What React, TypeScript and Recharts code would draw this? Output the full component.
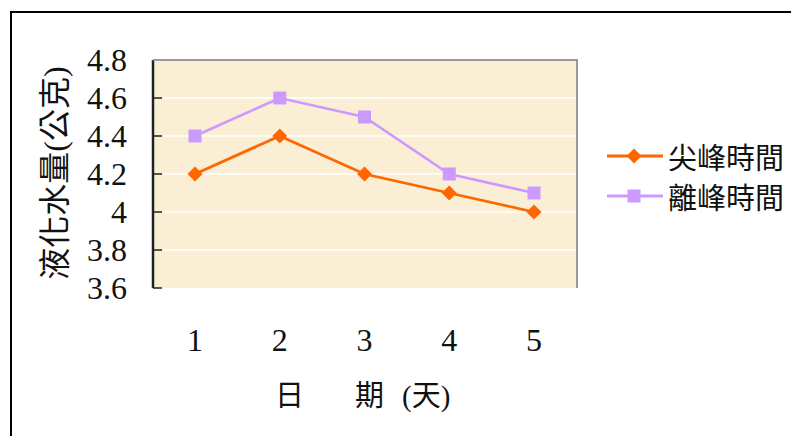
import { LineChart, Line, XAxis, YAxis, CartesianGrid, Legend } from "recharts";

const days = ["1", "2", "3", "4", "5"];
const peak = [4.2, 4.4, 4.2, 4.1, 4.0];
const offPeak = [4.4, 4.6, 4.5, 4.2, 4.1];
const yTicks = [3.6, 3.8, 4.0, 4.2, 4.4, 4.6, 4.8];
const dayBoundaries = [1, 2, 3, 4];
const seriesNames = ["尖峰時間", "離峰時間"];
const seriesColors = ["#FF6600", "#CC99FF"];

const data = days.map((d, i) => ({ day: d, peak: peak[i], offPeak: offPeak[i] }));
// white grid lines only inside the plot, not on its edges
const gridValues = yTicks.slice(1, -1);
const yMin = yTicks[0];
const yMax = yTicks[yTicks.length - 1];

const FONT = "'Liberation Serif', 'Noto Sans CJK TC', serif";
const INK = "#111";

const Diamond = (props: any) => {
  const { cx, cy, index } = props;
  if (cx == null || cy == null) return <g key={`d-${index}`} />;
  const r = 7.5;
  return (
    <path
      key={`d-${index}`}
      d={`M${cx},${cy - r}L${cx + r},${cy}L${cx},${cy + r}L${cx - r},${cy}Z`}
      fill={seriesColors[0]}
    />
  );
};

const Square = (props: any) => {
  const { cx, cy, index } = props;
  if (cx == null || cy == null) return <g key={`s-${index}`} />;
  const s = 13;
  return <rect key={`s-${index}`} x={cx - s / 2} y={cy - s / 2} width={s} height={s} fill={seriesColors[1]} />;
};

const renderLegend = () => (
  <div style={{ fontFamily: FONT, fontSize: 29, color: INK }}>
    {seriesNames.map((name, i) => (
      <div key={name} style={{ display: "flex", alignItems: "center", height: 40 }}>
        <svg width={56} height={20} style={{ display: "block" }}>
          <line x1={0} x2={56} y1={10} y2={10} stroke={seriesColors[i]} strokeWidth={3} />
          {i === 0 ? (
            <path d="M27,2.5L34.5,10L27,17.5L19.5,10Z" fill={seriesColors[0]} />
          ) : (
            <rect x={20.5} y={3.5} width={13} height={13} fill={seriesColors[1]} />
          )}
        </svg>
        <span style={{ marginLeft: 5 }}>{name}</span>
      </div>
    ))}
  </div>
);

const YLabel = () => (
  <text
    x={55}
    y={173}
    transform="rotate(-90 55 173)"
    textAnchor="middle"
    dominantBaseline="central"
    fontFamily={FONT}
    fontSize={32}
    fill={INK}
  >
    液化水量(公克)
  </text>
);

const XLabel = () => (
  <text y={406} fontFamily={FONT} fontSize={29} fill={INK}>
    <tspan x={275}>日</tspan>
    <tspan x={355}>期</tspan>
    <tspan x={402}>(天)</tspan>
  </text>
);

const gridRows = (props: any) => {
  const scale = props?.yAxis?.scale;
  if (typeof scale === "function") return gridValues.map((v) => scale(v));
  const off = props?.offset;
  if (!off) return [];
  return gridValues.map((v) => off.top + (off.height * (yMax - v)) / (yMax - yMin));
};

export default function App() {
  return (
    <div style={{ position: "absolute", left: 0, top: 0, width: 791, height: 436, overflow: "hidden", background: "#fff" }}>
      {/* outer frame, only top and left edges show in the picture */}
      <div
        style={{
          position: "absolute",
          left: 10,
          top: 11,
          width: 900,
          height: 600,
          borderTop: "2px solid #000",
          borderLeft: "2px solid #000",
        }}
      />
      {/* plot background */}
      <div
        style={{
          position: "absolute",
          left: 153,
          top: 59,
          width: 425,
          height: 229,
          background: "#FAEED5",
        }}
      />
      <div style={{ position: "absolute", left: 0, top: 0 }}>
        <LineChart width={791} height={436} data={data} margin={{ top: 60, right: 215, bottom: 88, left: 93 }}>
          <CartesianGrid
            vertical={false}
            stroke="#FFFFFF"
            strokeWidth={1.3}
            strokeDasharray="0 10 440 0"
            horizontalCoordinatesGenerator={gridRows}
          />
          <XAxis
            xAxisId="bounds"
            type="number"
            domain={[0, 5]}
            ticks={dayBoundaries}
            height={0}
            tick={{ fontSize: 1 }}
            tickFormatter={() => ""}
            tickSize={-9}
            interval={0}
            axisLine={{ stroke: "#222", strokeWidth: 2.5 }}
            tickLine={{ stroke: "#222", strokeWidth: 1.5 }}
          />
          <XAxis
            dataKey="day"
            height={60}
            padding={{ left: 42, right: 42 }}
            axisLine={false}
            tickLine={false}
            tickSize={0}
            tickMargin={40}
            interval={0}
            tick={{ fontFamily: FONT, fontSize: 32, fill: INK }}
            label={<XLabel />}
          />
          <YAxis
            type="number"
            domain={[yMin, yMax]}
            ticks={yTicks}
            interval={0}
            width={60}
            tickSize={-9}
            tickMargin={35}
            axisLine={{ stroke: "#222", strokeWidth: 2.5 }}
            tickLine={{ stroke: "#222", strokeWidth: 1.5 }}
            tick={{ fontFamily: FONT, fontSize: 32, fill: INK }}
            label={<YLabel />}
          />
          <Legend
            layout="vertical"
            align="center"
            verticalAlign="middle"
            content={renderLegend}
            wrapperStyle={{ left: 607, top: 136, width: 184 }}
          />
          <Line
            dataKey="peak"
            name={seriesNames[0]}
            stroke={seriesColors[0]}
            strokeWidth={2.8}
            dot={Diamond}
            activeDot={false}
            isAnimationActive={false}
          />
          <Line
            dataKey="offPeak"
            name={seriesNames[1]}
            stroke={seriesColors[1]}
            strokeWidth={2.6}
            dot={Square}
            activeDot={false}
            isAnimationActive={false}
          />
        </LineChart>
      </div>
      {/* grey top / right edge of the plot, drawn over the chart */}
      <div
        style={{
          position: "absolute",
          left: 153,
          top: 59,
          width: 425,
          height: 229,
          boxSizing: "border-box",
          borderTop: "2px solid #9a9a9a",
          borderRight: "2px solid #9a9a9a",
          pointerEvents: "none",
        }}
      />
    </div>
  );
}
